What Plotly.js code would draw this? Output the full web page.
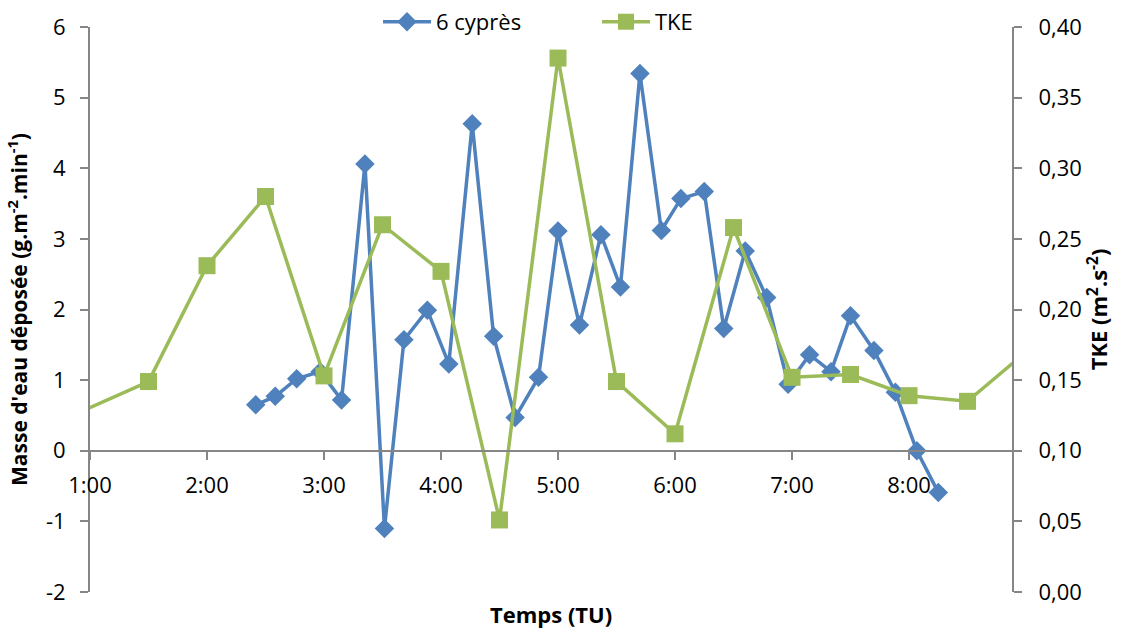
<!DOCTYPE html>
<html>
<head>
<meta charset="utf-8">
<script src="https://cdn.plot.ly/plotly-3.0.1.min.js"></script>
<style>html,body{margin:0;padding:0;background:#fff;}#chart{width:1129px;height:630px;}</style>
</head>
<body>
<div id="chart"></div>
<script>
// Series "6 cyprès" (left axis, g.m-2.min-1)
const cypresTimes = ["2:25","2:35","2:46","2:58","3:09","3:21","3:31","3:41","3:53","4:04","4:16","4:27","4:38","4:50","5:00","5:11","5:22","5:32","5:42","5:53","6:03","6:15","6:25","6:36","6:47","6:58","7:09","7:20","7:30","7:42","7:53","8:04","8:15"];
const cypresValues = [0.65,0.77,1.02,1.12,0.72,4.06,-1.10,1.57,1.99,1.23,4.63,1.62,0.47,1.04,3.11,1.78,3.06,2.32,5.34,3.12,3.57,3.67,1.73,2.83,2.17,0.94,1.36,1.12,1.91,1.42,0.83,0.00,-0.59];
// Series "TKE" (right axis, m2.s-2)
const tkeTimes = ["0:30","1:30","2:00","2:30","3:00","3:30","4:00","4:30","5:00","5:30","6:00","6:30","7:00","7:30","8:00","8:30","9:00"];
const tkeValues = [0.112,0.149,0.231,0.280,0.153,0.260,0.227,0.051,0.378,0.149,0.112,0.258,0.152,0.154,0.139,0.135,0.170];
// Axis ticks
const xTickLabels = ["1:00","2:00","3:00","4:00","5:00","6:00","7:00","8:00"];
const yTickVals = [-2,-1,0,1,2,3,4,5,6];
const yTickLabels = ["-2","-1","0","1","2","3","4","5","6"];

function toHours(s){const p=s.split(":");return Number(p[0])+Number(p[1])/60;}
const xTickVals = xTickLabels.map(toHours);

const FONT = "'Open Sans', sans-serif";
const BLUE = "#4F81BD", GREEN = "#9BBB59", AX = "#868686";

const traces = [
  {x: cypresTimes.map(toHours), y: cypresValues, name: "6 cyprès", type: "scatter", mode: "lines+markers",
   line: {color: BLUE, width: 3.5}, marker: {symbol: "diamond", size: 15, color: BLUE}, yaxis: "y"},
  {x: tkeTimes.map(toHours), y: tkeValues, name: "TKE", type: "scatter", mode: "lines+markers",
   line: {color: GREEN, width: 3.5}, marker: {symbol: "square", size: 17, color: GREEN}, yaxis: "y2"}
];

const layout = {
  width: 1129, height: 630,
  margin: {l: 90, r: 117, t: 27, b: 38, autoexpand: false},
  paper_bgcolor: "#fff", plot_bgcolor: "#fff",
  font: {family: FONT, size: 22, color: "#000"},
  separators: ", ",
  showlegend: true,
  legend: {orientation: "h", x: (378-90)/922, xanchor: "left", y: 1.009, yanchor: "middle",
           font: {family: FONT, size: 22, color: "#000"}, itemwidth: 48, entrywidth: 156, entrywidthmode: "pixels",
           bgcolor: "rgba(0,0,0,0)"},
  xaxis: {range: [1, 8.88], tickmode: "array", tickvals: xTickVals, ticktext: xTickLabels,
          anchor: "free", position: 0.25, showline: true, linecolor: AX, linewidth: 2,
          ticks: "outside", ticklen: 8, tickwidth: 2, tickcolor: AX, showgrid: false, zeroline: false,
          ticklabelstandoff: 7, tickfont: {family: FONT, size: 22, color: "#000"}},
  yaxis: {range: [-2, 6], tickmode: "array", tickvals: yTickVals, ticktext: yTickLabels,
          showline: true, linecolor: AX, linewidth: 2,
          ticks: "outside", ticklen: 8, tickwidth: 2, tickcolor: AX, showgrid: false, zeroline: false,
          ticklabelstandoff: 10, tickfont: {family: FONT, size: 22, color: "#000"},
          title: {text: "<b>Masse d'eau déposée (g.m<sup>-2</sup>.min<sup>-1</sup>)</b>", font: {family: FONT, size: 21, color: "#000"}, standoff: 13}},
  yaxis2: {range: [0, 0.40], dtick: 0.05, tick0: 0, tickformat: ".2f", overlaying: "y", side: "right",
           showline: true, linecolor: AX, linewidth: 2, ticks: "outside", ticklen: 8, tickwidth: 2, tickcolor: AX,
           showgrid: false, zeroline: false, ticklabelstandoff: 12, tickfont: {family: FONT, size: 22, color: "#000"},
           title: {text: "<b>TKE (m<sup>2</sup>.s<sup>-2</sup>)</b>", font: {family: FONT, size: 22, color: "#000"}, standoff: 10}},
  annotations: [{text: "<b>Temps (TU)</b>", xref: "paper", yref: "paper", x: 0.5, y: -0.039, yanchor: "middle",
                 showarrow: false, font: {family: FONT, size: 22, color: "#000"}}]
};

Plotly.newPlot("chart", traces, layout, {displayModeBar: false, staticPlot: true});
</script>
</body>
</html>
